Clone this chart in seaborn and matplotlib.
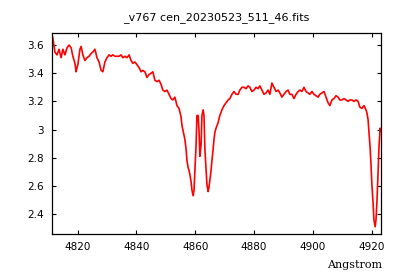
import matplotlib
matplotlib.use('Agg')
import matplotlib.pyplot as plt
import seaborn as sns

# Spectrum (Angstrom, flux)
wavelength = [
    4811.3, 4811.5, 4811.8, 4812.3, 4813.0, 4813.7, 4814.4, 4815.0, 4815.7, 4816.4,
    4817.1, 4817.8, 4818.4, 4819.1, 4819.5, 4819.8, 4820.1, 4820.8, 4821.2, 4821.8,
    4822.5, 4823.2, 4823.9, 4824.6, 4825.2, 4825.9, 4826.6, 4827.3, 4828.0, 4828.6,
    4829.3, 4830.0, 4830.7, 4831.4, 4832.0, 4832.7, 4833.4, 4834.1, 4834.8, 4835.4,
    4836.1, 4836.8, 4837.5, 4838.2, 4838.8, 4839.5, 4840.2, 4840.9, 4841.6, 4842.2,
    4842.9, 4843.6, 4844.3, 4845.0, 4845.6, 4846.3, 4847.0, 4847.7, 4848.4, 4849.0,
    4849.7, 4850.4, 4851.1, 4851.8, 4852.4, 4853.1, 4853.8, 4854.5, 4855.2, 4855.5,
    4856.2, 4856.5, 4856.9, 4857.2, 4857.6, 4857.9, 4858.2, 4858.6, 4858.9, 4859.3,
    4859.6, 4859.9, 4860.3, 4860.6, 4861.0, 4861.3, 4861.6, 4862.0, 4862.3, 4862.7,
    4863.0, 4863.3, 4863.7, 4864.0, 4864.4, 4864.7, 4865.0, 4865.4, 4865.7, 4866.1,
    4866.4, 4866.7, 4867.1, 4867.8, 4868.4, 4869.1, 4869.8, 4870.5, 4871.2, 4871.8,
    4872.5, 4873.2, 4873.9, 4874.6, 4875.2, 4875.9, 4876.6, 4877.3, 4878.0, 4878.6,
    4879.3, 4880.0, 4880.7, 4881.4, 4882.0, 4882.7, 4883.4, 4884.1, 4884.8, 4885.4,
    4886.1, 4886.8, 4887.5, 4888.2, 4888.8, 4889.5, 4890.2, 4890.9, 4891.6, 4892.2,
    4892.9, 4893.6, 4894.3, 4895.0, 4895.6, 4896.3, 4897.0, 4897.7, 4898.4, 4899.0,
    4899.7, 4900.4, 4901.1, 4901.8, 4902.4, 4903.1, 4903.8, 4904.5, 4905.2, 4905.8,
    4906.5, 4907.2, 4907.9, 4908.6, 4909.2, 4909.9, 4910.6, 4911.3, 4912.0, 4912.6,
    4913.3, 4914.0, 4914.7, 4915.4, 4916.0, 4916.7, 4917.4, 4918.1, 4918.4, 4918.8,
    4919.1, 4919.5, 4919.8, 4920.1, 4920.5, 4920.8, 4921.2, 4921.5, 4921.8, 4922.2,
    4922.5, 4922.9, 4923.2,
]
flux = [
    3.60, 3.66, 3.62, 3.55, 3.53, 3.57, 3.51, 3.57, 3.53, 3.58,
    3.60, 3.58, 3.52, 3.47, 3.41, 3.44, 3.46, 3.57, 3.59, 3.53,
    3.49, 3.51, 3.52, 3.54, 3.55, 3.57, 3.51, 3.48, 3.42, 3.41,
    3.48, 3.51, 3.53, 3.52, 3.53, 3.52, 3.52, 3.52, 3.53, 3.51,
    3.52, 3.51, 3.53, 3.49, 3.47, 3.48, 3.46, 3.44, 3.41, 3.42,
    3.41, 3.37, 3.39, 3.40, 3.41, 3.35, 3.34, 3.35, 3.32, 3.28,
    3.27, 3.28, 3.25, 3.22, 3.21, 3.23, 3.17, 3.15, 3.09, 3.03,
    2.96, 2.93, 2.86, 2.78, 2.73, 2.71, 2.68, 2.63, 2.57, 2.53,
    2.57, 2.71, 2.89, 3.10, 3.10, 2.99, 2.81, 2.89, 3.10, 3.14,
    3.10, 2.86, 2.71, 2.61, 2.56, 2.59, 2.64, 2.71, 2.78, 2.86,
    2.93, 2.98, 3.01, 3.05, 3.10, 3.14, 3.17, 3.19, 3.21, 3.22,
    3.25, 3.27, 3.25, 3.25, 3.28, 3.30, 3.30, 3.29, 3.31, 3.30,
    3.27, 3.28, 3.30, 3.29, 3.31, 3.28, 3.25, 3.26, 3.28, 3.25,
    3.33, 3.30, 3.27, 3.28, 3.26, 3.23, 3.25, 3.27, 3.28, 3.25,
    3.25, 3.22, 3.25, 3.27, 3.28, 3.27, 3.30, 3.27, 3.26, 3.25,
    3.27, 3.25, 3.24, 3.23, 3.25, 3.26, 3.27, 3.23, 3.19, 3.17,
    3.21, 3.22, 3.24, 3.23, 3.21, 3.21, 3.22, 3.21, 3.20, 3.21,
    3.21, 3.20, 3.21, 3.20, 3.16, 3.15, 3.17, 3.14, 3.12, 3.07,
    2.98, 2.87, 2.75, 2.61, 2.48, 2.36, 2.31, 2.36, 2.48, 2.69,
    2.87, 3.01, 2.99,
]

x_ticks = [4820, 4840, 4860, 4880, 4900, 4920]
y_ticks = [2.4, 2.6, 2.8, 3.0, 3.2, 3.4, 3.6]
y_labels = ['2.4', '2.6', '2.8', '3', '3.2', '3.4', '3.6']

sns.set_style('ticks')
plt.rcParams['font.family'] = ['DejaVu Sans']
plt.rcParams['text.color'] = 'black'
plt.rcParams['axes.labelcolor'] = 'black'

fig = plt.figure(figsize=(4, 2.8), dpi=100)
ax = fig.add_axes([0.13, 0.164, 0.8225, 0.718])

sns.lineplot(x=wavelength, y=flux, color='red', linewidth=1.2,
             sort=False, estimator=None, ax=ax)

ax.set_xlim(4811.3, 4923.2)
ax.set_ylim(2.258, 3.685)
ax.set_xticks(x_ticks)
ax.set_yticks(y_ticks)
ax.set_yticklabels(y_labels)
ax.tick_params(direction='in', length=3, width=0.8, top=True, right=True,
               labelsize=7.5, colors='black', pad=6)
for s in ax.spines.values():
    s.set_linewidth(0.9)
    s.set_color('black')
    s.set_visible(True)

ax.set_title('_v767 cen_20230523_511_46.fits', fontsize=8, pad=9, color='black')
ax.set_xlabel('Angstrom', fontsize=8, family='DejaVu Serif', color='black')
ax.xaxis.set_label_coords(1.005, -0.13)
ax.xaxis.label.set_horizontalalignment('right')

fig.savefig('out.png', dpi=100)
